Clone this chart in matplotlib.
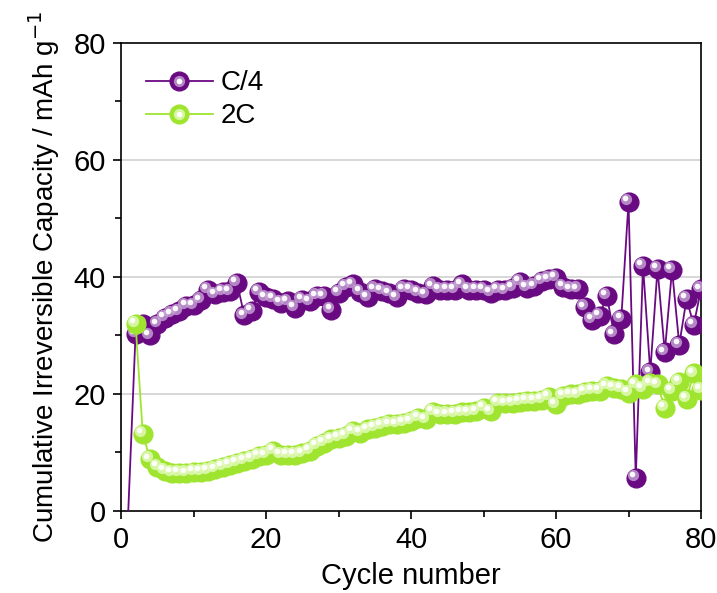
import numpy as np
import matplotlib
matplotlib.use('Agg')
import matplotlib.pyplot as plt
from matplotlib.ticker import MultipleLocator
from matplotlib.transforms import offset_copy
from matplotlib.lines import Line2D
from matplotlib.legend_handler import HandlerTuple

plt.rcParams['font.family'] = ['Liberation Sans', 'DejaVu Sans']

# cycle number, C/4 rate (cycle 1 .. 80)
cyc_c4 = np.arange(1, 81)
cap_c4 = [0.0, 30.2, 32.0, 30.0, 31.9, 33.0, 33.6, 34.1, 35.0, 35.1,
          36.0, 37.8, 37.0, 37.4, 37.5, 39.0, 33.4, 34.2, 37.4, 36.5,
          36.2, 35.6, 35.8, 34.7, 36.1, 35.8, 36.7, 36.7, 34.4, 37.3,
          38.3, 38.7, 37.4, 36.5, 37.9, 37.6, 37.2, 36.5, 37.9, 37.8,
          37.3, 37.0, 38.4, 37.8, 37.8, 37.8, 38.7, 37.8, 37.8, 37.8,
          37.3, 37.8, 37.7, 38.1, 39.1, 38.1, 38.4, 39.3, 39.6, 39.8,
          38.3, 37.9, 37.9, 34.8, 32.6, 33.3, 36.8, 30.2, 32.8, 52.8,
          5.6, 41.9, 23.7, 41.4, 27.1, 41.2, 28.4, 36.2, 31.8, 37.9]

# 2C rate (cycle 2 .. 80)
cyc_2c = np.arange(2, 81)
cap_2c = [32.0, 13.2, 8.8, 7.5, 6.8, 6.5, 6.5, 6.4, 6.6,
          6.6, 6.8, 7.1, 7.5, 7.8, 8.2, 8.5, 8.9, 9.4, 9.5,
          10.2, 9.6, 9.6, 9.6, 9.8, 10.2, 11.1, 11.6, 12.2, 12.5,
          12.8, 13.6, 13.3, 13.9, 14.2, 14.5, 14.8, 14.8, 15.0, 15.3,
          15.9, 15.6, 16.9, 16.5, 16.5, 16.6, 16.8, 16.8, 17.0, 17.6,
          17.0, 18.5, 18.4, 18.5, 18.6, 18.8, 18.8, 19.0, 19.5, 18.2,
          19.7, 19.9, 19.9, 20.3, 20.5, 20.5, 21.3, 21.0, 20.9, 20.2,
          21.6, 20.9, 21.8, 21.6, 17.6, 20.5, 22.0, 19.1, 23.5, 20.7]

purple = '#6a0a82'
purple_hi = '#c9a6d8'
green = '#9fe52f'
green_hi = '#e4fbbf'

fig = plt.figure(figsize=(7.17, 5.93), dpi=100)
ax = fig.add_axes([0.1688, 0.1388, 0.8089, 0.7887])

ms = 13.5


def sphere_series(x, y, col, hi, first=0, z=3):
    ax.plot(x, y, '-', color=col, lw=1.3, zorder=z)
    ax.plot(x[first:], y[first:], 'o', ls='none', ms=ms, color=col,
            mec=col, zorder=z + 0.1)
    tr = offset_copy(ax.transData, fig=fig, x=-2.0, y=2.0, units='points')
    ax.plot(x[first:], y[first:], 'o', ls='none', ms=ms * 0.6,
            color=hi, mec='none', alpha=0.8, transform=tr, zorder=z + 0.2)
    tr2 = offset_copy(ax.transData, fig=fig, x=-2.6, y=2.6, units='points')
    ax.plot(x[first:], y[first:], 'o', ls='none', ms=ms * 0.3,
            color='white', mec='none', alpha=0.95, transform=tr2, zorder=z + 0.3)


sphere_series(cyc_c4, np.array(cap_c4), purple, purple_hi, first=1, z=3)
sphere_series(cyc_2c, np.array(cap_2c), green, green_hi, first=0, z=4)

ax.set_xlim(0, 80)
ax.set_ylim(0, 80)
ax.xaxis.set_major_locator(MultipleLocator(20))
ax.xaxis.set_minor_locator(MultipleLocator(10))
ax.yaxis.set_major_locator(MultipleLocator(20))
ax.yaxis.set_minor_locator(MultipleLocator(10))
ax.tick_params(which='major', direction='out', length=6, width=1.2,
               labelsize=21, pad=5)
ax.tick_params(which='minor', direction='out', length=4, width=1.2)
for s in ax.spines.values():
    s.set_linewidth(1.2)

for g in [20, 40, 60]:
    ax.axhline(g, color='#d4d4d4', lw=1.3, zorder=1)

ax.set_xlabel('Cycle number', fontsize=21, labelpad=6)
ax.set_ylabel('Cumulative Irreversible Capacity / mAh g$^{-1}$', fontsize=20,
              labelpad=8)


def leg_handle(col, hi):
    base = Line2D([0], [0], color=col, lw=1.3, marker='o', ms=ms, mec=col)
    h1 = Line2D([0], [0], ls='none', marker='o', ms=ms * 0.6, color=hi,
                mec='none', alpha=0.8)
    h2 = Line2D([0], [0], ls='none', marker='o', ms=ms * 0.3, color='white',
                mec='none')
    return (base, h1, h2)


ax.legend([leg_handle(purple, purple_hi), leg_handle(green, green_hi)],
          ['C/4', '2C'], handler_map={tuple: HandlerTuple(ndivide=1, pad=0)},
          loc='upper left', bbox_to_anchor=(0.0, 0.995), frameon=False,
          fontsize=20, handlelength=2.4, handletextpad=0.3, labelspacing=0.25,
          numpoints=1)

fig.savefig('out.png', dpi=100)
